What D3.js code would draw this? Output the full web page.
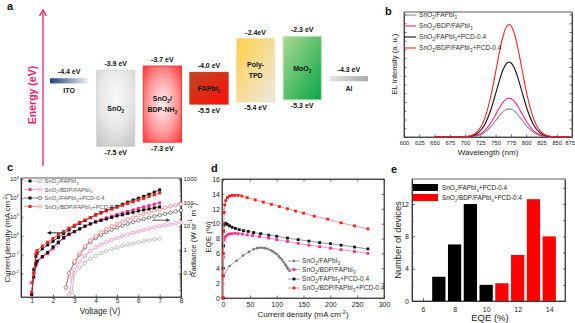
<!DOCTYPE html>
<html><head><meta charset="utf-8">
<script src="https://cdn.jsdelivr.net/npm/d3@7"></script>
<style>body{margin:0;background:#fff}svg{display:block}</style>
</head><body><svg id="fig" width="575" height="323"></svg>
<script>
// ---------------- DATA ----------------
// Panel a: energy levels
const layers = ['ITO','SnO2','SnO2/BDP-NH2','FAPbI3','Poly-TPD','MoO3','Al'];
const lumo = [-4.4,-3.9,-3.7,-4.0,-2.4,-2.3,-4.3];
const homo = [null,-7.5,-7.3,-5.5,-5.4,-5.3,null];
const topLabels = ['-4.4 eV','-3.9 eV','-3.7 eV','-4.0 eV','-2.4eV','-2.3 eV','-4.3 eV'];
const botLabels = ['','-7.5 eV','-7.3 eV','-5.5 eV','-5.4 eV','-5.3 eV',''];
const layerText = [['ITO'],['SnO_2'],['SnO_2/','BDP-NH_2'],['FAPbI_3'],['Poly-','TPD'],['MoO_3'],['Al']];

// Panel b: EL spectra
const wl = [650,690,702,712,722,732,742,752,757,762,767,772,777,782,787,792,802,812,822,832,842,852,862,872];
const elRed   = [0,0,0.004,0.015,0.053,0.147,0.324,0.572,0.698,0.804,0.875,0.90,0.875,0.804,0.698,0.572,0.324,0.147,0.053,0.015,0.004,0.001,0,0];
const elBlack = [0,0,0.002,0.010,0.035,0.098,0.216,0.381,0.465,0.536,0.583,0.60,0.583,0.536,0.465,0.381,0.216,0.098,0.035,0.010,0.002,0,0,0];
const elPink  = [0,0,0.001,0.005,0.018,0.051,0.112,0.197,0.240,0.277,0.301,0.31,0.301,0.277,0.240,0.197,0.112,0.051,0.018,0.005,0.001,0,0,0];
const elGray  = [0,0,0.001,0.004,0.013,0.037,0.081,0.143,0.174,0.201,0.219,0.225,0.219,0.201,0.174,0.143,0.081,0.037,0.013,0.004,0.001,0,0,0];
const seriesNames = ['SnO_2/FAPbI_3','SnO_2/BDP/FAPbI_3','SnO_2/FAPbI_3+PCD-0.4','SnO_2/BDP/FAPbI_3+PCD-0.4'];
const wlTicks = [600,625,650,675,700,725,750,775,800,825,850,875];

// Panel c: J-V and radiance-V
const vJ = [1.0,1.1,1.2,1.25,1.5,1.75,2.0,2.25,2.5,2.75,3.0,3.25,3.5,3.75,4.0,4.25,4.5,4.75,5.0,5.25,5.5,5.75,6.0,6.25,6.5,6.75,7.0];
const jA = [0.00079,0.016,0.079,0.11,0.2,0.32,0.5,0.79,1.26,2.0,3.16,4.47,6.31,8.91,12.6,16.6,21.4,28.2,35.5,45.7,58.9,75.9,95.5,120,155,200,263];
const jB = [0.0032,0.011,0.025,0.04,0.071,0.11,0.2,0.4,0.71,1.12,1.58,2.24,3.16,4.17,5.5,6.92,8.71,10.7,13.2,15.8,19.1,22.9,27.5,33.1,38.9,45.7,53.7];
const jC = [0.00079,0.0063,0.032,0.045,0.079,0.13,0.25,0.45,0.79,1.2,1.66,2.29,3.16,4.17,5.25,6.31,7.59,9.12,11.0,12.6,14.8,17.0,20.0,22.9,26.3,29.5,33.1];
const jD = [0.001,0.01,0.11,0.16,0.28,0.45,0.71,1.12,1.66,2.51,3.55,5.01,6.76,9.12,12.0,15.5,20.0,25.1,31.6,39.8,50.1,61.7,75.9,93.3,117,145,182];
const vRA = [2.9,3.0,3.25,3.5,3.75,4.0,4.25,4.5,4.75,5.0,5.25,5.5,5.75,6.0,6.25,6.5,6.75,7.0];
const rA = [0.016,0.1,0.18,0.28,0.42,0.56,0.72,0.89,1.07,1.26,1.45,1.66,1.86,2.09,2.29,2.51,2.75,2.95];
const vRB = [2.75,2.9,3.0,3.25,3.5,3.75,4.0,4.25,4.5,4.75,5.0,5.25,5.5,5.75,6.0,6.25,6.5,6.75,7.0,7.25,7.5,7.75,8.0];
const rB = [0.0126,0.063,0.14,0.32,0.56,0.89,1.26,1.66,2.09,2.63,3.16,3.8,4.47,5.25,6.03,6.92,7.94,8.91,10,11,12,13.2,14.5];
const vRCD = [2.6,2.75,3.0,3.25,3.5,3.75,4.0,4.25,4.5,4.75,5.0,5.25,5.5,5.75,6.0,6.25,6.5,6.75,7.0,7.25,7.5,7.75,8.0];
const rC = [0.025,0.1,0.28,0.63,1.26,2.14,3.16,4.27,5.62,7.08,8.71,10.5,12.6,14.8,17.4,20.0,22.9,26.3,29.5,33.1,37.2,41.7,46.8];
const rD = [0.025,0.1,0.32,0.71,1.41,2.51,3.8,5.5,7.6,10,12.6,15.8,19.5,23.4,28.2,33.1,38.9,45.7,52.5,60.3,69.2,77.6,87.1];
const vTicks = [1,2,3,4,5,6,7,8];
const jTicks = [0.01,0.1,1,10,100,1000];
const jTickLabels = ['10^{-2}','10^{-1}','10^{0}','10^{1}','10^{2}','10^{3}'];
const rTicks = [0.1,1,10,100,1000];
const rTickLabels = ['0.1','1','10','100','1000'];
const arrowsC = [{v0:2.45,v1:1.72,val:1.4,side:'left'},{v0:6.65,v1:7.5,val:18,side:'right'}];

// Panel d: EQE vs current density
const jdRed = [0,0.3,0.6,1,2,3,5,8,12,17,22,28,35,45,60,75,90,105,120,135,150,170,195,220,245,270];
const eqeRed = [0,3,6,9,11.5,12.5,13.1,13.5,13.7,13.8,13.8,13.8,13.7,13.5,13.2,12.9,12.6,12.3,12.0,11.7,11.4,11.0,10.6,10.1,9.7,9.3];
const jdBlk = [0,0.3,0.6,1,2,3,5,8,12,17,23,30,38,47,57,70,85,100,120,140,160,180,200,220,245,270];
const eqeBlk = [0,4,7,9,9.8,10.05,10.05,9.9,9.7,9.5,9.35,9.2,9.05,8.95,8.8,8.65,8.45,8.3,8.05,7.85,7.65,7.45,7.3,7.1,6.85,6.6];
const jdPnk = [0,0.3,0.6,1,2,4,7,11,16,22,28,36,45,55,68,85,100,120,140,160,180,200,220,245,270];
const eqePnk = [0,3,5.5,7,7.8,8.2,8.45,8.6,8.65,8.7,8.65,8.6,8.5,8.4,8.25,8.05,7.85,7.6,7.35,7.1,6.9,6.7,6.5,6.25,6.0];
const jdGry = [0.5,12,25,37,48,57,63,68,73,78,83,88,92,96,100,104,107,110,113,116,118,120,122,124];
const eqeGry = [2.9,4.3,5.0,5.7,6.2,6.55,6.7,6.75,6.75,6.7,6.6,6.45,6.3,6.1,5.9,5.6,5.35,5.1,4.8,4.5,4.3,4.05,3.85,3.65];
const jdTicks = [0,50,100,150,200,250,300];
const eqeTicks = [0,2,4,6,8,10,12,14,16];

// Panel e: EQE histogram
const binsBlack = [7,8,9,10];
const countsBlack = [3,7,12,2];
const binsRed = [11,12,13,14];
const countsRed = [2.2,5.7,12.6,8];
const histNames = ['SnO_2/FAPbI_3+PCD-0.4','SnO_2/BDP/FAPbI_3+PCD-0.4'];
const eTicksX = [6,8,10,12,14];
const eTicksY = [0,4,8,12];

// ---------------- HELPERS ----------------
const FONT = '"Liberation Sans", Arial, Helvetica, sans-serif';
const svg = d3.select('#fig');
svg.append('rect').attr('width',575).attr('height',323).attr('fill','#fff');
const defs = svg.append('defs');

function rich(sel, str, fs){
  const re=/([_^])\{([^}]*)\}|([_^])([^_^{])|([^_^]+)/g;
  let m, cur=0;
  while((m=re.exec(str))!==null){
    let type='', t='';
    if(m[1]){type=m[1];t=m[2];}
    else if(m[3]){type=m[3];t=m[4];}
    else t=m[5];
    const target = type==='_'? fs*0.28 : type==='^'? -fs*0.4 : 0;
    const ts=sel.append('tspan').attr('dy',(target-cur).toFixed(2)).text(t);
    if(type) ts.attr('font-size',(fs*0.68).toFixed(2));
    cur=target;
  }
  return sel;
}
function txt(parent,x,y,str,fs,o={}){
  const t=parent.append('text').attr('x',x).attr('y',y).attr('font-size',fs)
    .attr('font-family',FONT).attr('fill',o.fill||'#222').attr('text-anchor',o.anchor||'start');
  if(o.bold) t.attr('font-weight','bold');
  if(o.rot!==undefined) t.attr('transform',`rotate(${o.rot},${x},${y})`);
  rich(t,str,fs);
  return t;
}
function styleAxis(g,fs){
  g.selectAll('path.domain').attr('stroke','#333').attr('stroke-width',0.8);
  g.selectAll('.tick line').attr('stroke','#333').attr('stroke-width',0.7);
  g.selectAll('.tick text').attr('font-size',fs).attr('fill','#222').attr('font-family',FONT);
  return g;
}
function frame(x0,y0,x1,y1){
  svg.append('rect').attr('x',x0).attr('y',y0).attr('width',x1-x0).attr('height',y1-y0)
    .attr('fill','none').attr('stroke','#333').attr('stroke-width',0.8);
}

// ---------------- PANEL A ----------------
txt(svg,7,10,'a',11,{bold:true,fill:'#111'});
const pink='#ff1a6e';
svg.append('line').attr('x1',43).attr('x2',43).attr('y1',166).attr('y2',11).attr('stroke',pink).attr('stroke-width',1.3);
svg.append('path').attr('d','M39.5,16 L43,10 L46.5,16').attr('fill','none').attr('stroke',pink).attr('stroke-width',1.3);
txt(svg,36,95,'Energy  (eV)',10.5,{bold:true,fill:pink,anchor:'middle',rot:-90});

const grads = [
  {id:'gITO',type:'lin',x2:1,y2:0,stops:[['0','#21407f'],['1','#eef1f7']]},
  {id:'gSnO2',type:'rad',cx:0.5,cy:0.35,r:0.85,stops:[['0','#f9f9f9'],['0.5','#e6e6e6'],['1','#bdbdbd']]},
  {id:'gBDP',type:'rad',cx:0.5,cy:0.5,r:0.75,stops:[['0','#fff2f2'],['0.5','#ff9c9c'],['1','#ff2424']]},
  {id:'gFA',type:'lin',x2:1,y2:1,stops:[['0','#bf471f'],['1','#ff0d0d']]},
  {id:'gTPD',type:'lin',x2:1,y2:1,stops:[['0','#ffcf45'],['1','#eee9e4']]},
  {id:'gMo',type:'lin',x2:1,y2:1,stops:[['0','#acd98f'],['1','#07a64a']]},
  {id:'gAl',type:'lin',x2:1,y2:0,stops:[['0','#e4e4e4'],['1','#a9a9a9']]}
];
grads.forEach(gd=>{
  let el;
  if(gd.type==='lin') el=defs.append('linearGradient').attr('id',gd.id).attr('x1',0).attr('y1',0).attr('x2',gd.x2).attr('y2',gd.y2);
  else el=defs.append('radialGradient').attr('id',gd.id).attr('cx',gd.cx).attr('cy',gd.cy).attr('r',gd.r);
  gd.stops.forEach(s=>el.append('stop').attr('offset',s[0]).attr('stop-color',s[1]));
});
const strokes = ['none','#d8d8d8','#ff3a3a','#c23a1a','#f3e2b0','#bde3b0','none'];
const xA = d3.scaleBand().domain(layers).range([50,368]).paddingInner(0.18);
const yA = d3.scaleLinear().domain([-2.3,-7.5]).range([36.4,146.4]);
const ga = svg.append('g');
layers.forEach((L,i)=>{
  const x0=xA(L), w=xA.bandwidth(), cx=x0+w/2;
  let y0,y1;
  if(homo[i]===null){ y0=yA(lumo[i])-2.6; y1=yA(lumo[i])+2.6; }
  else { y0=yA(lumo[i]); y1=yA(homo[i]); }
  ga.append('rect').attr('x',x0).attr('y',y0).attr('width',w).attr('height',y1-y0)
    .attr('fill',`url(#${grads[i].id})`).attr('stroke',strokes[i]).attr('stroke-width',1);
  txt(ga,cx,y0-4,topLabels[i],7,{bold:true,anchor:'middle',fill:'#111'});
  if(homo[i]!==null) txt(ga,cx,y1+8.5,botLabels[i],7,{bold:true,anchor:'middle',fill:'#111'});
  const lines=layerText[i];
  if(homo[i]===null){
    txt(ga,cx,y1+10,lines[0],7,{bold:true,anchor:'middle',fill:'#111'});
  } else {
    const mid=(y0+y1)/2, lh=10.5;
    lines.forEach((s,k)=>{
      txt(ga,cx,mid+2.5+(k-(lines.length-1)/2)*lh,s,7,{bold:true,anchor:'middle',fill:'#111'});
    });
  }
});

// ---------------- PANEL B ----------------
txt(svg,385,15,'b',11,{bold:true,fill:'#111'});
const bx0=404,bx1=572,by0=12,by1=137;
const xB=d3.scaleLinear().domain([600,875]).range([bx0,bx1]);
const yB=d3.scaleLinear().domain([0,1]).range([by1,by0]);
const bYt=[0,0.07,0.14,0.21,0.28,0.35,0.42,0.49,0.56,0.63,0.70,0.77,0.84,0.91,0.98];
const bAxis=styleAxis(svg.append('g').attr('transform',`translate(0,${by1})`)
  .call(d3.axisBottom(xB).tickValues(wlTicks).tickSize(-2.5).tickSizeOuter(0).tickPadding(4)),5.8);
bAxis.selectAll('.tick text').filter(d=>d===875).attr('text-anchor','end').attr('x',2.5);
styleAxis(svg.append('g').attr('transform',`translate(${bx0},0)`)
  .call(d3.axisLeft(yB).tickValues(bYt).tickSize(-2.5).tickSizeOuter(0).tickFormat('')),6);
styleAxis(svg.append('g').attr('transform',`translate(${bx1},0)`)
  .call(d3.axisRight(yB).tickValues(bYt).tickSize(-2.5).tickSizeOuter(0).tickFormat('')),6);
frame(bx0,by0,bx1,by1);
const bColors=['#8a8a8a','#ff1f8f','#111111','#ff2020'];
const elSeries=[elGray,elPink,elBlack,elRed];
const lineB=d3.line().x(d=>xB(d[0])).y(d=>yB(d[1])).curve(d3.curveMonotoneX);
elSeries.forEach((s,i)=>{
  svg.append('path').attr('d',lineB(wl.map((w,k)=>[w,s[k]]))).attr('fill','none')
    .attr('stroke',bColors[i]).attr('stroke-width',1.1);
});
const bLegY=[15,26,37,48];
seriesNames.forEach((n,i)=>{
  svg.append('line').attr('x1',bx0).attr('x2',bx0+12).attr('y1',bLegY[i]).attr('y2',bLegY[i])
    .attr('stroke',bColors[i]).attr('stroke-width',1.1);
  txt(svg,bx0+15,bLegY[i]+2.3,n,6.6,{fill:'#333'});
});
txt(svg,488,155,'Wavelength (nm)',8,{anchor:'middle',fill:'#222'});
txt(svg,397,64,'EL Intensity (a. u.)',7.5,{anchor:'middle',rot:-90,fill:'#222'});

// ---------------- PANEL C ----------------
txt(svg,7,171,'c',11,{bold:true,fill:'#111'});
const cx0=21,cx1=181,cy0=178,cy1=297;
const xC=d3.scaleLinear().domain([0.5,8]).range([cx0,cx1]);
const yCL=d3.scaleLog().domain([Math.pow(10,-3.25),Math.pow(10,3.05)]).range([cy1,cy0]);
const yCR=d3.scaleLog().domain([0.01,1100]).range([cy1,cy0]);
styleAxis(svg.append('g').attr('transform',`translate(0,${cy1})`)
  .call(d3.axisBottom(xC).tickValues(vTicks).tickSize(-2.5).tickSizeOuter(0).tickPadding(2).tickFormat(d3.format('d'))),6.3);
const minorL=[];[-3,-2,-1,0,1,2].forEach(e=>{for(let k=2;k<10;k++){const v=k*Math.pow(10,e); if(v<Math.pow(10,3.05)) minorL.push(v);}});
styleAxis(svg.append('g').attr('transform',`translate(${cx0},0)`)
  .call(d3.axisLeft(yCL).tickValues(jTicks).tickSize(-2.5).tickSizeOuter(0).tickFormat('')),6);
styleAxis(svg.append('g').attr('transform',`translate(${cx0},0)`)
  .call(d3.axisLeft(yCL).tickValues(minorL.filter(v=>v>Math.pow(10,-3.25))).tickSize(-1.3).tickSizeOuter(0).tickFormat('')),6);
const minorR=[];[-2,-1,0,1,2].forEach(e=>{for(let k=2;k<10;k++){minorR.push(k*Math.pow(10,e));}});
styleAxis(svg.append('g').attr('transform',`translate(${cx1},0)`)
  .call(d3.axisRight(yCR).tickValues(rTicks).tickSize(-2.5).tickSizeOuter(0).tickFormat('')),6);
styleAxis(svg.append('g').attr('transform',`translate(${cx1},0)`)
  .call(d3.axisRight(yCR).tickValues(minorR.filter(v=>v<1100)).tickSize(-1.3).tickSizeOuter(0).tickFormat('')),6);
frame(cx0,cy0,cx1,cy1);
jTicks.forEach((v,i)=>txt(svg,cx0-2,yCL(v)+2,jTickLabels[i],6,{anchor:'end'}));
rTicks.forEach((v,i)=>txt(svg,cx1+2.5,yCR(v)+2,rTickLabels[i],6));
const cCols={A:'#111',B:'#ff2a8a',C:'#111',D:'#ff1a1a'};
const rCols={A:'#a8a8a8',B:'#ff7ab8',C:'#555',D:'#ff7070'};
const jSets=[['A',jA],['B',jB],['C',jC],['D',jD]];
const rSets=[['A',vRA,rA],['B',vRB,rB],['C',vRCD,rC],['D',vRCD,rD]];
const gc=svg.append('g');
rSets.forEach(([k,vs,rs])=>{
  const pts=vs.map((v,i)=>[xC(v),yCR(rs[i])]);
  gc.append('path').attr('d',d3.line()(pts)).attr('fill','none').attr('stroke',rCols[k]).attr('stroke-width',0.7);
  gc.selectAll(null).data(pts).enter().append('circle').attr('cx',d=>d[0]).attr('cy',d=>d[1]).attr('r',1.7)
    .attr('fill','#fff').attr('stroke',rCols[k]).attr('stroke-width',0.7);
});
jSets.forEach(([k,js])=>{
  const pts=vJ.map((v,i)=>[xC(v),yCL(js[i])]);
  gc.append('path').attr('d',d3.line()(pts)).attr('fill','none').attr('stroke',cCols[k]).attr('stroke-width',0.7);
  gc.selectAll(null).data(pts).enter().append('rect').attr('x',d=>d[0]-1.5).attr('y',d=>d[1]-1.5)
    .attr('width',3).attr('height',3).attr('fill',cCols[k]);
});
arrowsC.forEach(a=>{
  const y=a.side==='left'?yCL(a.val):yCR(a.val);
  const x0=xC(a.v0), x1=xC(a.v1), dir=Math.sign(x1-x0);
  const col=a.side==='left'?'#111':'#444';
  svg.append('line').attr('x1',x0).attr('x2',x1-dir*3).attr('y1',y).attr('y2',y).attr('stroke',col).attr('stroke-width',0.9);
  svg.append('path').attr('d',`M${x1},${y} L${x1-dir*4},${y-1.8} L${x1-dir*4},${y+1.8}Z`).attr('fill',col);
});
const cLegY=[181,189.5,198,206.5];
['A','B','C','D'].forEach((k,i)=>{
  const y=cLegY[i];
  svg.append('line').attr('x1',24).attr('x2',42).attr('y1',y).attr('y2',y).attr('stroke',rCols[k]==='#555'?'#444':rCols[k]).attr('stroke-width',0.7);
  svg.append('rect').attr('x',28.5).attr('y',y-1.5).attr('width',3).attr('height',3).attr('fill',cCols[k]);
  svg.append('circle').attr('cx',40).attr('cy',y).attr('r',1.7).attr('fill','#fff').attr('stroke',rCols[k]).attr('stroke-width',0.7);
  txt(svg,44.5,y+2,seriesNames[i],5.9,{fill:'#555'});
});
txt(svg,100,314,'Voltage (V)',8.2,{anchor:'middle'});
txt(svg,10,238,'Current density (mA cm^{-2})',7.8,{anchor:'middle',rot:-90});
txt(svg,195.5,240,'Radiance (W sr^{-1} m^{-2})',7.8,{anchor:'middle',rot:-90});

// ---------------- PANEL D ----------------
txt(svg,211,172,'d',11,{bold:true,fill:'#111'});
const dx0=222,dx1=384,dy0=179,dy1=298;
const xD=d3.scaleLinear().domain([-2,300]).range([dx0,dx1]);
const yD=d3.scaleLinear().domain([0,16]).range([dy1,dy0]);
styleAxis(svg.append('g').attr('transform',`translate(0,${dy1})`)
  .call(d3.axisBottom(xD).tickValues(jdTicks).tickSize(-2.5).tickSizeOuter(0).tickPadding(4)),7);
styleAxis(svg.append('g').attr('transform',`translate(${dx0},0)`)
  .call(d3.axisLeft(yD).tickValues(eqeTicks).tickSize(-2.5).tickSizeOuter(0).tickPadding(2)),7);
styleAxis(svg.append('g').attr('transform',`translate(${dx1},0)`)
  .call(d3.axisRight(yD).tickValues(eqeTicks).tickSize(-2.5).tickSizeOuter(0).tickFormat('')),7);
styleAxis(svg.append('g').attr('transform',`translate(0,${dy0})`)
  .call(d3.axisTop(xD).tickValues(jdTicks).tickSize(-2.5).tickSizeOuter(0).tickFormat('')),7);
frame(dx0,dy0,dx1,dy1);
const dSets=[
  {j:jdGry,e:eqeGry,line:'#9a9a9a',mk:'#777',shape:'dot'},
  {j:jdPnk,e:eqePnk,line:'#ff8cc0',mk:'#ff2a8a',shape:'sq'},
  {j:jdBlk,e:eqeBlk,line:'#888',mk:'#111',shape:'sq'},
  {j:jdRed,e:eqeRed,line:'#ff8a8a',mk:'#ff1a1a',shape:'sq'}
];
const gd=svg.append('g');
dSets.forEach(s=>{
  const pts=s.j.map((v,i)=>[xD(v),yD(s.e[i])]);
  gd.append('path').attr('d',d3.line()(pts)).attr('fill','none').attr('stroke',s.line).attr('stroke-width',0.9);
  if(s.shape==='sq'){
    gd.selectAll(null).data(pts).enter().append('rect').attr('x',d=>d[0]-1.4).attr('y',d=>d[1]-1.4)
      .attr('width',2.8).attr('height',2.8).attr('fill',s.mk);
  } else {
    gd.selectAll(null).data(pts).enter().append('circle').attr('cx',d=>d[0]).attr('cy',d=>d[1]).attr('r',1.3).attr('fill',s.mk);
  }
});
const dLegY=[261,269.5,279,288];
dSets.forEach((s,i)=>{
  const y=dLegY[i];
  svg.append('line').attr('x1',288).attr('x2',300).attr('y1',y).attr('y2',y).attr('stroke',s.line).attr('stroke-width',0.9);
  if(s.shape==='sq') svg.append('rect').attr('x',292.6).attr('y',y-1.4).attr('width',2.8).attr('height',2.8).attr('fill',s.mk);
  else svg.append('circle').attr('cx',294).attr('cy',y).attr('r',1.3).attr('fill',s.mk);
  txt(svg,302,y+2.3,seriesNames[i],6.6,{fill:'#333'});
});
txt(svg,303,317,'Current density (mA cm^{-2})',8,{anchor:'middle'});
txt(svg,211,237,'EQE (%)',8,{anchor:'middle',rot:-90});

// ---------------- PANEL E ----------------
txt(svg,391,173,'e',11,{bold:true,fill:'#111'});
const ex0=412,ex1=565,ey0=179,ey1=301;
const xE=d3.scaleLinear().domain([5.3,15]).range([ex0,ex1]);
const yE=d3.scaleLinear().domain([0,15.1]).range([ey1,ey0]);
styleAxis(svg.append('g').attr('transform',`translate(0,${ey1})`)
  .call(d3.axisBottom(xE).tickValues(eTicksX).tickSize(-3).tickSizeOuter(0).tickPadding(6)),7);
styleAxis(svg.append('g').attr('transform',`translate(0,${ey1})`)
  .call(d3.axisBottom(xE).tickValues([7,9,11,13]).tickSize(-1.6).tickSizeOuter(0).tickFormat('')),7);
styleAxis(svg.append('g').attr('transform',`translate(${ex0},0)`)
  .call(d3.axisLeft(yE).tickValues(eTicksY).tickSize(-3).tickSizeOuter(0).tickPadding(3)),7);
styleAxis(svg.append('g').attr('transform',`translate(${ex0},0)`)
  .call(d3.axisLeft(yE).tickValues([2,6,10,14]).tickSize(-1.6).tickSizeOuter(0).tickFormat('')),7);
styleAxis(svg.append('g').attr('transform',`translate(${ex1},0)`)
  .call(d3.axisRight(yE).tickValues([0,2,4,6,8,10,12,14]).tickSize(-2).tickSizeOuter(0).tickFormat('')),7);
frame(ex0,ey0,ex1,ey1);
const bw=0.84;
const ge=svg.append('g');
[[binsBlack,countsBlack,'#000'],[binsRed,countsRed,'#ff0000']].forEach(([bins,cnt,col])=>{
  bins.forEach((b,i)=>{
    ge.append('rect').attr('x',xE(b-bw/2)).attr('y',yE(cnt[i])).attr('width',xE(b+bw/2)-xE(b-bw/2))
      .attr('height',yE(0)-yE(cnt[i])).attr('fill',col);
  });
});
['#000','#ff0000'].forEach((col,i)=>{
  const y=[184,194][i];
  svg.append('rect').attr('x',413).attr('y',y).attr('width',25).attr('height',7).attr('fill',col);
  txt(svg,442,y+6,histNames[i],6.4,{fill:'#222'});
});
txt(svg,490,321,'EQE (%)',9.5,{anchor:'middle'});
txt(svg,400.5,240,'Number of devices',9.3,{anchor:'middle',rot:-90});
</script></body></html>
